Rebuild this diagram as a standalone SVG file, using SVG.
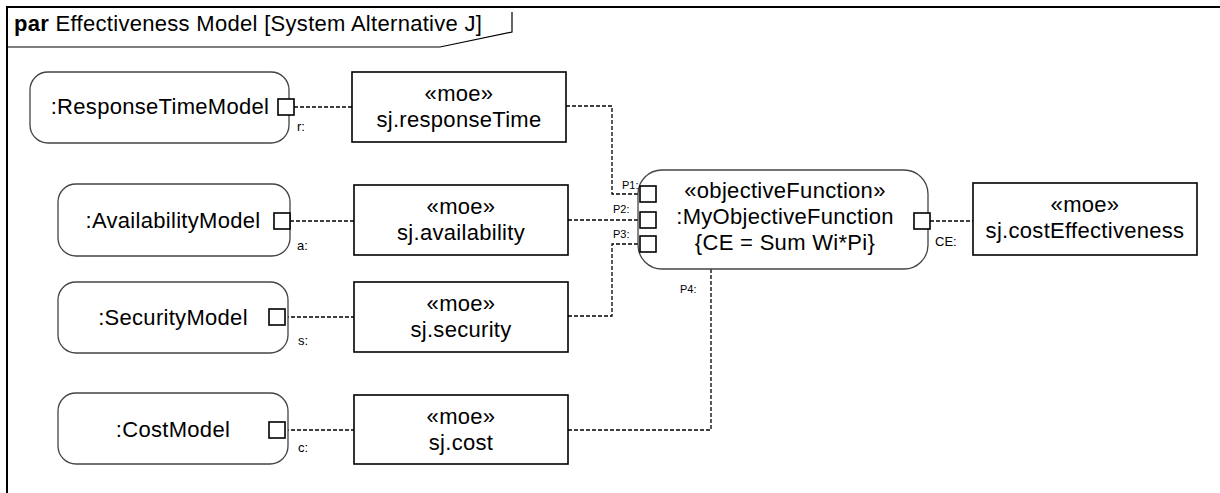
<svg xmlns="http://www.w3.org/2000/svg" width="1220" height="493" viewBox="0 0 1220 493">
<style>
text{font-family:"Liberation Sans",Arial,sans-serif;fill:#000}
.t{font-size:22px;letter-spacing:0.3px;text-anchor:middle}
.lbl{font-size:13px}
.pl{font-size:11px}
.part{fill:#fff;stroke:#444;stroke-width:1.3}
.moe{fill:#fff;stroke:#000;stroke-width:1.6}
.port{fill:#fff;stroke:#000;stroke-width:1.6}
.conn{fill:none;stroke:#000;stroke-width:1.3;stroke-dasharray:4 2}
.frame{fill:none;stroke:#000;stroke-width:2}
</style>
<rect width="1220" height="493" fill="#fff"/>
<g id="frame">
<path class="frame" d="M1220,7 H7 V493"/>
<path fill="none" stroke="#000" stroke-width="1.2" d="M7,47 H440 L512,32 V12"/>
<text x="14" y="31" style="font-size:22px;letter-spacing:0.3px"><tspan font-weight="bold">par</tspan> Effectiveness Model [System Alternative J]</text>
</g>
<g id="connectors">
<path class="conn" d="M294,107 H352"/>
<path class="conn" d="M566,106 H612 V194 H640"/>
<path class="conn" d="M290,221 H354"/>
<path class="conn" d="M568,220 H640"/>
<path class="conn" d="M285,317 H354"/>
<path class="conn" d="M568,316 H612 V244 H640"/>
<path class="conn" d="M285,430 H354"/>
<path class="conn" d="M568,430 H711 V269"/>
<path class="conn" d="M930,221 H973"/>
</g>
<g id="responseTimeModel">
<rect class="part" x="30" y="72" width="259" height="71" rx="18"/>
<text class="t" x="160" y="114">:ResponseTimeModel</text>
<rect class="port" x="278" y="99" width="16" height="16"/>
<text class="lbl" x="297" y="131">r:</text>
</g>
<g id="availabilityModel">
<rect class="part" x="58" y="184" width="232" height="72" rx="18"/>
<text class="t" x="173" y="228">:AvailabilityModel</text>
<rect class="port" x="274" y="213" width="16" height="16"/>
<text class="lbl" x="297" y="250">a:</text>
</g>
<g id="securityModel">
<rect class="part" x="58" y="282" width="230" height="71" rx="18"/>
<text class="t" x="173" y="325">:SecurityModel</text>
<rect class="port" x="269" y="309" width="16" height="16"/>
<text class="lbl" x="298" y="345">s:</text>
</g>
<g id="costModel">
<rect class="part" x="58" y="393" width="230" height="71" rx="18"/>
<text class="t" x="173" y="437">:CostModel</text>
<rect class="port" x="269" y="422" width="16" height="16"/>
<text class="lbl" x="298" y="452">c:</text>
</g>
<g id="moeResponseTime">
<rect class="moe" x="352" y="72" width="214" height="70"/>
<text class="t" x="459" y="101">«moe»</text>
<text class="t" x="459" y="127">sj.responseTime</text>
</g>
<g id="moeAvailability">
<rect class="moe" x="354" y="185" width="214" height="70"/>
<text class="t" x="461" y="214">«moe»</text>
<text class="t" x="461" y="240">sj.availability</text>
</g>
<g id="moeSecurity">
<rect class="moe" x="354" y="282" width="214" height="70"/>
<text class="t" x="461" y="311">«moe»</text>
<text class="t" x="461" y="337">sj.security</text>
</g>
<g id="moeCost">
<rect class="moe" x="354" y="395" width="214" height="69"/>
<text class="t" x="461" y="424">«moe»</text>
<text class="t" x="461" y="450">sj.cost</text>
</g>
<g id="objectiveFunction">
<rect class="part" x="638" y="170" width="290" height="99" rx="24"/>
<text class="t" x="785" y="198">«objectiveFunction»</text>
<text class="t" x="785" y="224">:MyObjectiveFunction</text>
<text class="t" x="785" y="250">{CE = Sum Wi*Pi}</text>
<rect class="port" x="640" y="186" width="16" height="16"/>
<rect class="port" x="640" y="212" width="16" height="16"/>
<rect class="port" x="640" y="236" width="16" height="16"/>
<rect class="port" x="914" y="213" width="16" height="16"/>
<text class="pl" x="622" y="189">P1:</text>
<text class="pl" x="613" y="213">P2:</text>
<text class="pl" x="613" y="238">P3:</text>
<text class="pl" x="680" y="293">P4:</text>
<text class="lbl" x="935" y="246">CE:</text>
</g>
<g id="moeCostEffectiveness">
<rect class="moe" x="973" y="183" width="224" height="72"/>
<text class="t" x="1085" y="212">«moe»</text>
<text class="t" x="1085" y="238">sj.costEffectiveness</text>
</g>
</svg>
